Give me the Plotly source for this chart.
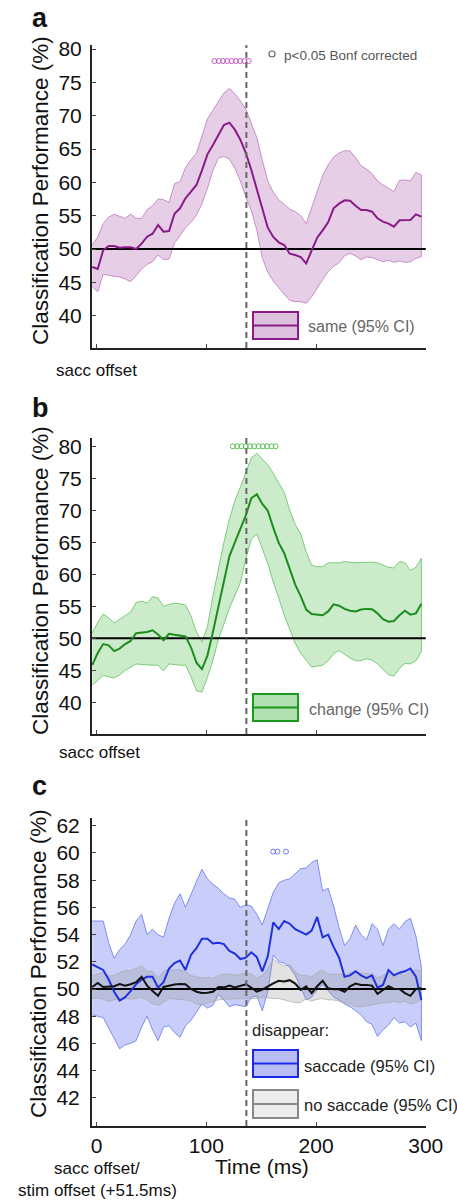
import plotly.graph_objects as go

# ---------------- data ----------------
time_ms = list(range(-4, 297, 5))  # 61 samples, -4 ... 296 ms

same_mean = [47.3, 47.0, 49.8, 50.45, 50.45, 50.2, 50.25, 50.25, 50.0, 50.8,
             51.85, 52.3, 53.6, 52.6, 52.7, 55.3, 56.1, 57.6, 58.6, 59.6,
             61.8, 64.2, 65.6, 67.1, 68.6, 68.95, 67.9, 66.4, 64.4, 61.85,
             58.9, 55.8, 53.2, 51.8, 51.0, 50.6, 49.3, 49.1, 48.8, 47.85,
             49.8, 51.7, 52.8, 54.0, 56.1, 56.8, 57.3, 57.25, 56.5, 55.85,
             55.85, 55.6, 54.6, 54.1, 53.8, 53.35, 54.3, 54.35, 54.35, 55.2, 54.85]
same_upper = [50.6, 51.8, 53.8, 54.8, 55.2, 54.85, 54.6, 55.25, 54.6, 54.6,
              55.9, 56.5, 57.5, 57.4, 57.0, 59.8, 60.1, 62.2, 63.4, 64.35,
              67.0, 69.5, 70.8, 72.1, 73.4, 74.1, 73.3, 72.2, 71.0, 68.85,
              66.7, 63.3, 60.2, 58.5, 57.4, 56.7, 56.0, 55.6, 55.0, 53.8,
              56.2, 58.8, 61.0, 62.6, 63.8, 64.4, 64.75, 64.7, 63.7, 62.5,
              62.0, 61.3, 60.2, 59.6, 59.1, 58.6, 60.3, 60.35, 60.2, 61.5, 61.1]
same_lower = [44.3, 43.6, 46.2, 46.1, 45.9, 45.8, 45.5, 45.1, 46.0, 47.0,
              47.7, 48.1, 49.1, 48.4, 48.5, 50.9, 52.0, 53.2, 54.0, 55.1,
              56.8, 59.1, 61.8, 63.6, 63.9, 63.5, 62.1, 60.2, 57.8, 55.8,
              52.85, 48.7, 46.5, 45.2, 44.2, 43.2, 42.3, 42.1, 42.1, 41.85,
              42.85, 44.1, 45.4, 46.6, 47.4, 47.95, 49.0, 49.35, 48.95, 48.4,
              48.8, 48.7, 48.4, 48.1, 48.3, 48.0, 48.2, 48.0, 48.1, 48.6, 48.85]

change_mean = [45.8, 47.7, 49.1, 48.9, 48.0, 48.4, 49.1, 49.6, 50.8, 50.9,
               51.0, 51.25, 50.6, 49.7, 50.7, 50.55, 50.4, 50.3, 48.6, 46.2,
               45.2, 47.3, 51.0, 55.0, 58.8, 62.8, 65.0, 67.1, 69.2, 71.9,
               72.5, 71.0, 69.95, 67.3, 64.9, 63.3, 60.8, 58.4, 56.6, 54.5,
               53.8, 53.65, 53.6, 54.2, 55.3, 55.1, 54.6, 54.3, 54.2, 54.5,
               54.6, 54.55, 53.9, 53.0, 52.6, 52.7, 53.6, 54.3, 53.7, 53.9, 55.4]
change_upper = [50.8, 52.5, 53.8, 53.2, 52.4, 53.0, 53.5, 54.1, 55.6, 55.8,
                55.5, 56.5, 56.3, 55.0, 55.3, 55.5, 55.4, 55.2, 53.5, 51.0,
                49.4, 51.8, 56.6, 61.0, 65.0, 68.6, 71.5, 73.6, 76.0, 78.2,
                78.9, 78.0, 77.1, 75.8, 74.3, 72.8, 70.0, 67.8, 66.3, 63.5,
                61.4, 61.2, 61.2, 61.8, 61.8, 61.8, 62.0, 61.9, 61.8, 61.85,
                61.9, 61.9, 61.8, 61.5, 61.1, 61.0, 62.0, 61.8, 60.6, 61.1, 62.5]
change_lower = [42.7, 43.4, 44.2, 44.0, 43.8, 44.3, 45.0, 45.5, 46.0, 45.9,
                45.8, 45.8, 45.8, 44.9, 46.0, 45.9, 45.8, 45.8, 44.0, 41.8,
                41.6, 43.9, 46.6, 49.8, 52.2, 54.7, 56.6, 58.7, 62.4, 65.5,
                66.3, 64.0, 61.7, 58.8, 56.3, 53.6, 51.4, 49.2, 47.7, 46.6,
                45.5, 45.7, 45.8, 46.5, 47.6, 48.1, 47.55, 46.9, 46.5, 46.5,
                46.8, 46.6, 46.0, 45.1, 44.3, 44.1, 45.3, 46.1, 46.0, 46.5, 47.9]

sacc_mean = [51.8, 51.6, 51.4, 50.7, 49.8, 49.15, 49.4, 49.85, 50.35, 50.7,
             50.9, 50.9, 50.1, 50.5, 51.5, 51.9, 52.1, 51.4, 52.5, 53.0,
             53.7, 53.7, 53.35, 53.4, 53.3, 52.8, 52.6, 52.2, 52.3, 52.7,
             52.35, 51.3, 52.4, 54.9, 54.4, 55.0, 54.8, 54.4, 54.2, 54.0,
             54.3, 55.3, 53.8, 54.0, 53.1, 52.3, 50.9, 51.0, 51.3, 51.0,
             50.8, 51.0, 50.1, 50.3, 51.4, 51.0, 51.2, 51.3, 51.5, 50.9, 49.2]
sacc_upper = [55.0, 55.0, 55.0, 53.4, 52.25, 52.9, 53.3, 54.0, 55.0, 55.5,
              54.0, 54.4, 54.0, 53.8, 55.2, 56.3, 57.0, 56.0, 57.0, 57.9,
              58.8, 58.1, 57.7, 57.4, 57.0, 56.7, 56.6, 56.0, 56.2, 56.1,
              55.5, 54.7, 55.9, 57.1, 57.8, 58.0, 58.1, 58.5, 58.85, 58.9,
              59.3, 59.5, 57.2, 57.4, 56.1, 54.5, 53.2, 53.7, 54.7, 54.0,
              53.6, 54.8, 54.4, 53.2, 54.4, 54.8, 54.4, 54.95, 55.2, 53.9, 51.6]
sacc_lower = [48.1, 48.0, 47.9, 47.2, 46.4, 45.6, 45.9, 46.0, 46.2, 47.2,
              48.0, 47.0, 46.2, 47.2, 47.3, 46.8, 46.45, 47.3, 47.7, 48.3,
              48.9, 48.6, 48.8, 49.6, 49.2, 48.7, 48.85, 48.8, 48.7, 49.4,
              49.5, 48.4, 49.8, 52.5, 52.0, 51.9, 51.6, 51.0, 50.1, 49.2,
              49.4, 49.95, 50.3, 49.9, 49.4, 49.2, 48.9, 48.7, 48.4, 48.1,
              47.6, 47.4, 46.5, 47.0, 47.35, 47.9, 47.5, 47.6, 47.2, 47.5, 46.2]

nosacc_mean = [50.15, 50.45, 50.15, 50.15, 50.2, 50.37, 50.25, 50.35, 50.5, 50.9,
               50.25, 49.85, 49.5, 50.15, 50.25, 50.33, 50.37, 50.35, 50.0, 49.8,
               49.7, 49.72, 49.8, 50.15, 50.12, 50.25, 50.12, 50.25, 50.35, 50.1,
               49.8, 49.95, 50.2, 50.42, 50.6, 50.55, 50.65, 50.4, 49.93, 50.2,
               49.7, 50.2, 50.6, 50.05, 49.98, 49.98, 49.8, 50.2, 50.4, 50.3,
               50.3, 50.25, 49.65, 49.9, 50.2, 50.0, 50.0, 49.7, 49.5, 50.0, 50.05]
nosacc_upper = [51.0, 51.1, 51.2, 50.95, 51.0, 51.2, 51.35, 51.35, 51.5, 51.7,
                51.3, 51.3, 50.8, 51.3, 51.45, 51.4, 51.45, 51.3, 51.0, 50.9,
                50.8, 50.85, 50.8, 51.0, 51.1, 51.1, 51.0, 51.1, 51.2, 51.1,
                50.8, 51.0, 51.5, 52.2, 51.9, 51.7, 51.8, 51.3, 51.0, 51.0,
                50.9, 51.2, 51.4, 51.1, 51.1, 51.1, 51.0, 51.2, 51.2, 51.15,
                51.1, 51.1, 50.8, 51.0, 51.2, 51.1, 51.1, 51.0, 51.3, 51.4, 51.3]
nosacc_lower = [49.3, 49.35, 49.25, 49.1, 49.2, 49.3, 49.3, 49.25, 49.3, 49.4,
                49.2, 48.9, 48.8, 49.0, 49.3, 49.25, 49.2, 49.2, 49.1, 48.9,
                48.85, 49.0, 49.1, 49.2, 49.25, 49.25, 49.3, 49.3, 49.3, 49.3,
                49.3, 49.4, 49.35, 49.3, 49.3, 49.15, 49.1, 49.0, 49.0, 49.3,
                49.1, 49.25, 49.3, 49.2, 49.2, 49.1, 49.0, 48.9, 48.7, 48.7,
                48.75, 48.8, 48.9, 49.0, 49.0, 49.1, 49.0, 49.1, 48.9, 49.0, 49.2]

# significant time points (p<0.05 Bonferroni corrected)
sig_same_t = [107.4, 111.3, 115.2, 119.1, 123.0, 126.9, 130.8, 134.7, 138.6]
sig_same_y = [78.2] * len(sig_same_t)
sig_change_t = [124.2, 128.1, 132.0, 135.9, 139.8, 143.7, 147.6, 151.5, 155.4, 159.3, 163.2]
sig_change_y = [80.0] * len(sig_change_t)
sig_sacc_t = [160.9, 164.8, 172.6]
sig_sacc_y = [60.1] * len(sig_sacc_t)

chance_level = 50
stim_offset_t = 136.5

x_ticks = [0, 100, 200, 300]
y_ticks_ab = [40, 45, 50, 55, 60, 65, 70, 75, 80]
y_ticks_c = [42, 44, 46, 48, 50, 52, 54, 56, 58, 60, 62]

# ---------------- helpers ----------------
W, H = 457, 1200
FONT = "Liberation Sans, Arial, Helvetica, sans-serif"


def px(x):
    return x / W


def py(y):
    return 1 - y / H


fig = go.Figure()


def band(t, up, lo, fillcolor, edgecolor, xa, ya):
    fig.add_trace(go.Scatter(
        x=list(t) + list(t)[::-1], y=list(up) + list(lo)[::-1],
        fill="toself", fillcolor=fillcolor, mode="lines",
        line=dict(color=edgecolor, width=1), hoverinfo="skip",
        showlegend=False, xaxis=xa, yaxis=ya))


def mean_line(t, m, color, xa, ya, width=2):
    fig.add_trace(go.Scatter(x=t, y=m, mode="lines",
                             line=dict(color=color, width=width),
                             showlegend=False, xaxis=xa, yaxis=ya))


def chance(xa, ya):
    fig.add_trace(go.Scatter(x=[-4.2, 300], y=[chance_level, chance_level], mode="lines",
                             line=dict(color="black", width=2),
                             showlegend=False, xaxis=xa, yaxis=ya))


def sig(t, y, color, xa, ya):
    fig.add_trace(go.Scatter(x=t, y=y, mode="markers",
                             marker=dict(symbol="circle-open", size=5,
                                         color=color, line=dict(width=1)),
                             showlegend=False, xaxis=xa, yaxis=ya))


# Panel a
band(time_ms, same_upper, same_lower, "rgba(196,140,196,0.42)", "rgba(190,120,190,0.8)", "x", "y")
chance("x", "y")
mean_line(time_ms, same_mean, "#8a1a88", "x", "y")
sig(sig_same_t, sig_same_y, "#c25cc0", "x", "y")

# Panel b
band(time_ms, change_upper, change_lower, "rgba(140,210,140,0.45)", "rgba(110,200,110,0.9)", "x2", "y2")
chance("x2", "y2")
mean_line(time_ms, change_mean, "#1c8c1c", "x2", "y2")
sig(sig_change_t, sig_change_y, "#5cc05c", "x2", "y2")

# Panel c
band(time_ms, sacc_upper, sacc_lower, "rgba(110,125,240,0.38)", "rgba(100,120,240,0.8)", "x3", "y3")
band(time_ms, nosacc_upper, nosacc_lower, "rgba(150,150,150,0.28)", "rgba(170,170,170,0.7)", "x3", "y3")
chance("x3", "y3")
mean_line(time_ms, sacc_mean, "#1f30e0", "x3", "y3")
mean_line(time_ms, nosacc_mean, "#111111", "x3", "y3")
sig(sig_sacc_t, sig_sacc_y, "#6a7cf0", "x3", "y3")

# ---------------- axes ----------------
xdom = [px(92), px(426)]
xrange = [-4.2, 300.2]
axis_common = dict(showline=True, linecolor="#222", linewidth=2, ticks="inside",
                   ticklen=4, tickcolor="#444", tickwidth=1, showgrid=False,
                   zeroline=False, mirror=False, automargin=False)
tickfont = dict(family=FONT, size=21, color="#111")

layout = dict(
    width=W, height=H, margin=dict(l=0, r=0, t=0, b=0, autoexpand=False),
    paper_bgcolor="white", plot_bgcolor="white", showlegend=False,
    font=dict(family=FONT),
    xaxis=dict(domain=xdom, range=xrange, anchor="y", tickvals=x_ticks[:3],
               showticklabels=False, **axis_common),
    yaxis=dict(domain=[py(348), py(45)], range=[35.15, 80.6], anchor="x",
               tickvals=y_ticks_ab, tickfont=tickfont, ticklabelstandoff=4, **axis_common),
    xaxis2=dict(domain=xdom, range=xrange, anchor="y2", tickvals=x_ticks[:3],
                showticklabels=False, **axis_common),
    yaxis2=dict(domain=[py(734), py(438)], range=[35.05, 81.3], anchor="x2",
                tickvals=y_ticks_ab, tickfont=tickfont, ticklabelstandoff=4, **axis_common),
    xaxis3=dict(domain=xdom, range=xrange, anchor="y3", tickvals=x_ticks,
                tickfont=tickfont, **axis_common),
    yaxis3=dict(domain=[py(1126), py(818)], range=[39.93, 62.57], anchor="x3",
                tickvals=y_ticks_c, tickfont=tickfont, ticklabelstandoff=6, **axis_common),
)

shapes = []
for xa, ya in [("x", "y"), ("x2", "y2"), ("x3", "y3")]:
    shapes.append(dict(type="line", xref=xa, yref=ya + " domain", x0=stim_offset_t, x1=stim_offset_t,
                       y0=0, y1=1, line=dict(color="#666", width=2, dash="6px,4px")))


def legend_box(x0, y0, x1, y1, fill, edge):
    shapes.append(dict(type="rect", xref="paper", yref="paper", x0=px(x0), x1=px(x1),
                       y0=py(y1), y1=py(y0), fillcolor=fill, line=dict(color=edge, width=2)))
    ym = (y0 + y1) / 2
    shapes.append(dict(type="line", xref="paper", yref="paper", x0=px(x0), x1=px(x1),
                       y0=py(ym), y1=py(ym), line=dict(color=edge, width=2)))


legend_box(253, 312, 298, 339, "#dcc0dc", "#8a1a88")
legend_box(253, 694, 298, 721, "#b3e0b3", "#1c9a1c")
legend_box(253, 1050, 298, 1077, "#b8bdf4", "#1a2ae8")
legend_box(253, 1090, 298, 1118, "#ececec", "#888888")

# p<0.05 legend circle
shapes.append(dict(type="circle", xref="paper", yref="paper", x0=px(269), x1=px(275),
                   y0=py(57), y1=py(51), line=dict(color="#666", width=1.2)))

layout["shapes"] = shapes

ann = []


def text(x, y, s, size, color="#111", xanchor="left", bold=False, angle=0):
    ann.append(dict(xref="paper", yref="paper", x=px(x), y=py(y), text=("<b>%s</b>" % s) if bold else s,
                    showarrow=False, xanchor=xanchor, yanchor="middle", textangle=angle,
                    font=dict(family=FONT, size=size, color=color)))


text(30, 18, "a", 27, bold=True)
text(30, 408, "b", 27, bold=True)
text(30, 786, "c", 27, bold=True)

ylab = "Classification Performance (%)"
text(40, 191, ylab, 22.5, xanchor="center", angle=-90)
text(40, 581, ylab, 22.5, xanchor="center", angle=-90)
text(38, 964, ylab, 22.5, xanchor="center", angle=-90)

text(96, 371, "sacc offset", 17, xanchor="center")
text(99, 753, "sacc offset", 17, xanchor="center")
text(97, 1168, "sacc offset/", 17, xanchor="center")
text(97, 1190, "stim offset (+51.5ms)", 17, xanchor="center")
text(262, 1166, "Time (ms)", 21, xanchor="center")

text(282, 56, "p<0.05 Bonf corrected", 13.5, color="#555")
text(306, 326, "same (95% CI)", 16, color="#666")
text(307, 709, "change (95% CI)", 16, color="#666")
text(250, 1030, "disappear:", 16.5, color="#222")
text(302, 1066, "saccade (95% CI)", 16.5, color="#222")
text(302, 1105, "no saccade (95% CI)", 16.5, color="#222")

layout["annotations"] = ann
fig.update_layout(**layout)
fig.write_html("out.html")
